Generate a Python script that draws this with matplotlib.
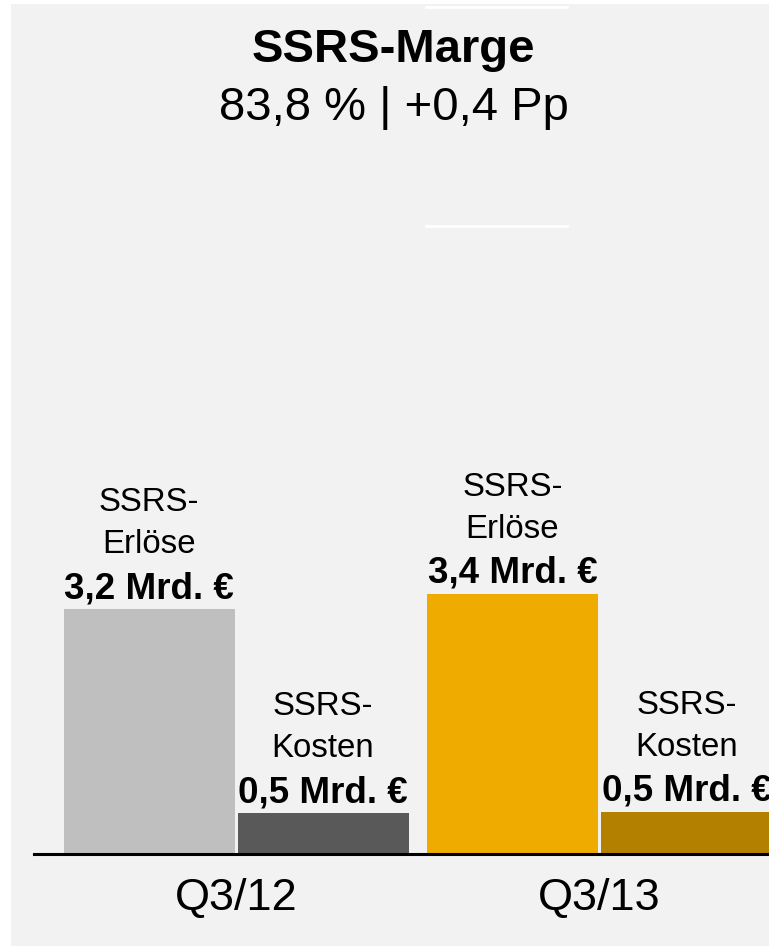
import matplotlib
matplotlib.use("Agg")
import matplotlib.pyplot as plt
from matplotlib.patches import Rectangle
from matplotlib.lines import Line2D

# ---- data ----
quarters = ["Q3/12", "Q3/13"]
revenues = [3.2, 3.4]          # SSRS-Erlöse, Mrd. €
costs = [0.53, 0.55]           # SSRS-Kosten, Mrd. €
revenue_labels = ["3,2 Mrd. €", "3,4 Mrd. €"]
cost_labels = ["0,5 Mrd. €", "0,5 Mrd. €"]
title = "SSRS-Marge"
subtitle = "83,8 % | +0,4 Pp"

rev_colors = ["#bfbfbf", "#f0ab00"]
cost_colors = ["#595959", "#b38000"]

plt.rcParams["font.family"] = ["Liberation Sans", "DejaVu Sans"]

W, H = 769, 946
fig = plt.figure(figsize=(W / 100, H / 100), dpi=100)
fig.patch.set_facecolor("white")

def fx(px):
    return px / W

def fy(py):
    return 1 - py / H

# gray background panel
fig.patches.append(Rectangle((fx(11), 0), 1 - fx(11), fy(4), transform=fig.transFigure,
                             facecolor="#f2f2f2", edgecolor="none", zorder=-10))
# white decorative lines near the top
for yy in (7, 226):
    fig.lines.append(Line2D([fx(426), fx(567)], [fy(yy), fy(yy)], transform=fig.transFigure,
                            color="white", lw=2.0))

# axes
base_px = 854
top_px = 5
left_px = 34
ax = fig.add_axes([fx(left_px), fy(base_px), 1 - fx(left_px), (base_px - top_px) / H])
ax.set_facecolor("none")
px_per_group = 363.5
ax.set_xlim((left_px - 236) / px_per_group, (W - 236) / px_per_group)
px_per_unit = 76.56
ax.set_ylim(0, (base_px - top_px) / px_per_unit)

width = 171 / px_per_group
off = 87 / px_per_group
xs = list(range(len(quarters)))

ax.bar([x - off for x in xs], revenues, width=width, color=rev_colors, zorder=2)
ax.bar([x + off for x in xs], costs, width=width, color=cost_colors, zorder=2)

ax.axhline(0, color="black", lw=2.2, zorder=3, clip_on=False)

for s in ax.spines.values():
    s.set_visible(False)
ax.set_xticks([])
ax.set_yticks([])

PT = 0.72  # points per pixel at dpi 100

def bar_label(x, h, l1, l2, l3):
    kw = dict(xycoords="data", textcoords="offset points", ha="center", va="baseline",
              annotation_clip=False, clip_on=False)
    ax.annotate(l1, (x, h), xytext=(0, 98 * PT), fontsize=23.8, **kw)
    ax.annotate(l2, (x, h), xytext=(0, 56 * PT), fontsize=23.8, **kw)
    ax.annotate(l3, (x, h), xytext=(0, 11 * PT), fontsize=26.5, fontweight="bold", **kw)

for i, x in enumerate(xs):
    bar_label(x - off, revenues[i], "SSRS-", "Erlöse", revenue_labels[i])
    bar_label(x + off, costs[i], "SSRS-", "Kosten", cost_labels[i])
    ax.annotate(quarters[i], (x, 0), xytext=(0, -56 * PT), textcoords="offset points",
                ha="center", va="baseline", fontsize=32.5, annotation_clip=False)

fig.text(fx(393.5), fy(62), title, ha="center", va="baseline", fontsize=34, fontweight="bold")
fig.text(fx(393.5), fy(120), subtitle, ha="center", va="baseline", fontsize=34)

fig.savefig("out.png", dpi=100, facecolor=fig.get_facecolor())
